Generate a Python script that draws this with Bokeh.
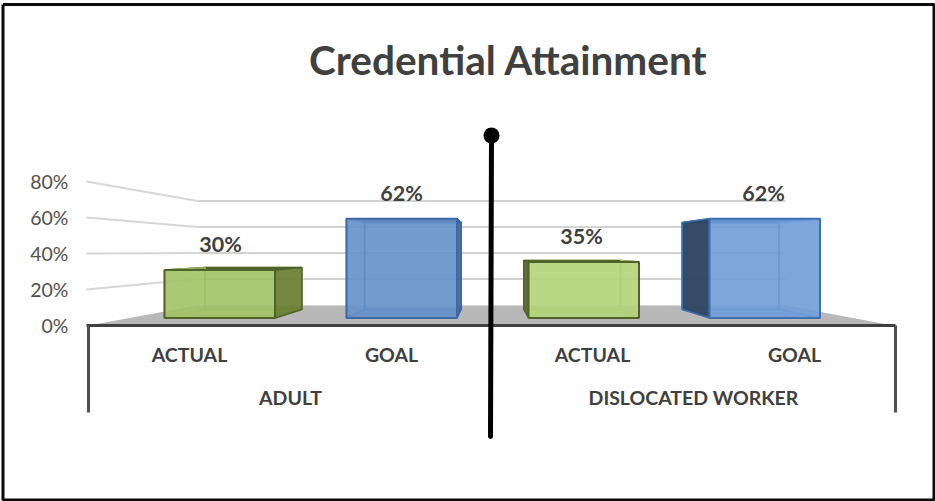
from bokeh.plotting import figure
from bokeh.models import Range1d, LinearAxis, FixedTicker, CustomJSTickFormatter
from bokeh.core.properties import value
from bokeh.embed import file_html
from bokeh.resources import INLINE

# ---- data ----
groups = ["ADULT", "DISLOCATED WORKER"]
categories = ["ACTUAL", "GOAL", "ACTUAL", "GOAL"]
values = [30, 62, 35, 62]
y_ticks = [0, 20, 40, 60, 80]
title_text = "Credential Attainment"

# ---- layout (reference pixels) ----
W, H = 935, 501
PX = 1.8               # px per % on the axis
Y0 = 325
def Y(py):             # pixel row -> axis units
    return (Y0 - py) / PX

p = figure(width=W, height=H, output_backend="svg", toolbar_location=None,
           x_range=Range1d(0, W), y_range=Range1d(Y(H), Y(0)),
           x_axis_location=None, y_axis_location=None,
           min_border=0, min_border_left=0, min_border_right=0, min_border_top=0, min_border_bottom=0)
p.grid.visible = False
p.outline_line_color = None
p.background_fill_color = "white"
p.border_fill_color = "white"

FONT = value("Lato")
axis = LinearAxis(ticker=FixedTicker(ticks=y_ticks), fixed_location=77)
axis.formatter = CustomJSTickFormatter(code="return tick + '%';")
axis.axis_line_color = None
axis.major_tick_line_color = None
axis.minor_tick_line_color = None
axis.major_label_standoff = 3
axis.major_label_text_font = "Lato"
axis.major_label_text_font_size = "19.5px"
axis.major_label_text_color = "#505050"
p.add_layout(axis, "left")

# outer border
p.line([2.5, 933.5, 933.5, 2.5, 2.5], [Y(4), Y(4), Y(499.5), Y(499.5), Y(4)],
       line_color="#0a0a0a", line_width=3)

# perspective of the 3-D plot
SB = 0.875; XV = 490; HZ = 248.8
def bx(x): return XV + (x - XV) * SB
def by(py): return HZ + (py - HZ) * SB

# back wall gridlines and left wall
BACKL, BACKR, WALLX = 197, 785, 86
for t in y_ticks[1:]:
    back_py = 304.5 - t * 1.3
    front_py = Y0 - t * PX
    p.line([BACKL, BACKR], [Y(back_py)] * 2, line_color="#d2d2d2", line_width=2.2)
    p.line([WALLX, BACKL], [Y(front_py), Y(back_py)], line_color="#d6d6d6", line_width=2.2)

# floor
p.patch([88, 197, 785, 893], [Y(325), Y(305), Y(305), Y(325)], fill_color="#b8b8b8", line_color=None)

# bars
BAR_L = [164, 346, 528, 709]
BAR_W = 110.5
BASE = 317.5; BARPX = 1.6
FILLS = [
    dict(front="#a3c366", side="#65792f", inner="#9ebf62", edge="#4f6228", inedge="#90ae5c"),
    dict(front="#6691c8", side="#3a6496", inner="#6691c8", edge="#3e6aa2", inedge="#4f80bd"),
    dict(front="#b4d47c", side="#55702c", inner="#a8ca6e", edge="#4f6228", inedge="#9dbd66"),
    dict(front="#6f9dd8", side="#2f4560", inner="#6f9dd8", edge="#3e6fae", inedge="#5b8ccb"),
]
for l, v, c in zip(BAR_L, values, FILLS):
    r = l + BAR_W
    top = BASE - v * BARPX
    xs = [l, r, bx(r), bx(l)]
    bt, bb = by(top), by(BASE)
    # back face
    p.patch([bx(l), bx(r), bx(r), bx(l)], [Y(bt), Y(bt), Y(bb), Y(bb)], fill_color=c["inner"], fill_alpha=0.55,
            line_color=c["inedge"], line_width=1.5)
    # floor, top
    p.patch(xs, [Y(BASE), Y(BASE), Y(bb), Y(bb)], fill_color=c["inner"], fill_alpha=0.7, line_color=c["inedge"], line_width=1)
    p.patch(xs, [Y(top), Y(top), Y(bt), Y(bt)], fill_color=c["edge"], line_color=c["edge"], line_width=1.5)
    # far side walls
    if bx(l) > l:     # left wall seen from inside
        p.patch([l, bx(l), bx(l), l], [Y(top), Y(bt), Y(bb), Y(BASE)], fill_color=c["inner"], fill_alpha=0.55,
                line_color=c["inedge"], line_width=1.5)
    else:             # left wall seen from outside
        p.patch([l, bx(l), bx(l), l], [Y(top), Y(bt), Y(bb), Y(BASE)], fill_color=c["side"], fill_alpha=0.95,
                line_color=c["edge"], line_width=1.5)
    if bx(r) > r:     # right wall seen from outside
        p.patch([r, bx(r), bx(r), r], [Y(top), Y(bt), Y(bb), Y(BASE)], fill_color=c["side"], fill_alpha=0.85,
                line_color=c["edge"], line_width=1.5)
    else:             # right wall seen from inside
        p.patch([r, bx(r), bx(r), r], [Y(top), Y(bt), Y(bb), Y(BASE)], fill_color=c["inner"], fill_alpha=0.55,
                line_color=c["inedge"], line_width=1.5)
    # front face
    p.patch([l, r, r, l], [Y(top), Y(top), Y(BASE), Y(BASE)], fill_color=c["front"], fill_alpha=0.8,
            line_color=c["edge"], line_width=2)

# axis frame
p.line([86, 895], [Y(325), Y(325)], line_color="#404040", line_width=3)
for x in (88, 895):
    p.line([x, x], [Y(325), Y(412)], line_color="#505050", line_width=3)

# divider
p.line([491, 490], [Y(135), Y(436)], line_color="black", line_width=5, line_cap="round")
p.scatter([491], [Y(135)], size=16, marker="circle", fill_color="black", line_color=None)

# texts
def label(x, py, txt, size, color="#404040", bold=True):
    p.text([x], [Y(py)], text=[txt], text_align="center", text_baseline="middle",
           text_font=FONT, text_font_size=size, text_color=color,
           text_font_style="bold" if bold else "normal")

label(508, 59, title_text, "40.5px")
for x, py, v in zip([401, 220, 581, 763], [192.5, 243.5, 235.5, 192.5], [values[1], values[0], values[2], values[3]]):
    label(x, py, f"{v}%", "21.5px")
for x, c in zip([189, 391, 592, 794], categories):
    label(x, 353.5, c, "19.5px")
for x, g in zip([290, 693], groups):
    label(x, 396.5, g, "19.5px")

html = file_html(p, INLINE)
open("out.html", "w").write(html)
